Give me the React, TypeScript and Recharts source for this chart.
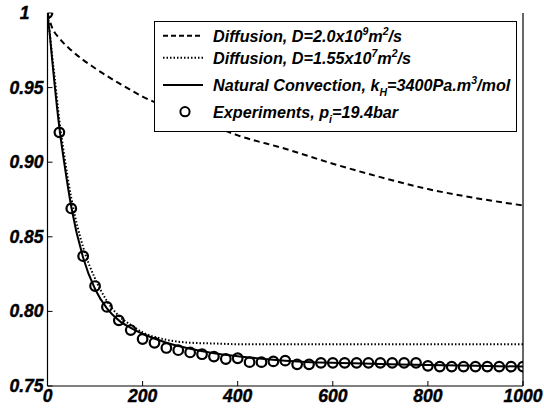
import React from 'react';
import { ComposedChart, Line, Scatter, XAxis, YAxis } from 'recharts';

// experiment sample times (s) and normalised pressure
const EXP_T = [
  0, 25, 50, 75, 100, 125, 150, 175, 200, 225, 250, 275, 300, 325, 350, 375, 400, 425, 450, 475, 500,
  525, 550, 575, 600, 625, 650, 675, 700, 725, 750, 775, 800, 825, 850, 875, 900, 925, 950, 975, 1000,
];
const EXP_V = [
  1.0, 0.92, 0.869, 0.837, 0.817, 0.803, 0.794, 0.7875, 0.7815, 0.779, 0.7755, 0.774, 0.7725, 0.7713,
  0.7697, 0.7681, 0.7686, 0.766, 0.766, 0.7665, 0.767, 0.7645, 0.7645, 0.7655, 0.7655, 0.7655, 0.7655,
  0.7655, 0.7655, 0.7655, 0.7655, 0.7655, 0.7635, 0.763, 0.763, 0.763, 0.763, 0.763, 0.763, 0.763, 0.763,
];

// natural convection model
const NC_T = [0, 5, 10, 15, 25, 35, 50, 75, 100, 125, 150, 175, 200, 250, 300, 350, 400, 500, 600, 700, 800, 900, 1000];
const NC_V = [1, 0.985, 0.968, 0.952, 0.923, 0.9, 0.87, 0.836, 0.815, 0.802, 0.794, 0.789, 0.785, 0.779, 0.775, 0.772, 0.77, 0.767, 0.7655, 0.7648, 0.764, 0.7635, 0.763];

// diffusion, D = 1.55e-7
const D2_T = [0, 5, 10, 15, 25, 35, 50, 75, 100, 125, 150, 175, 200, 250, 300, 350, 400, 500, 600, 700, 800, 900, 1000];
const D2_V = [1, 0.986, 0.971, 0.957, 0.928, 0.905, 0.876, 0.843, 0.822, 0.807, 0.797, 0.791, 0.786, 0.781, 0.779, 0.7785, 0.778, 0.778, 0.778, 0.778, 0.778, 0.778, 0.778];

// diffusion, D = 2.0e-9
const D1_T = [0, 10, 25, 50, 100, 150, 200, 300, 400, 500, 600, 700, 800, 900, 1000];
const D1_V = [1, 0.99, 0.983, 0.975, 0.963, 0.953, 0.944, 0.931, 0.918, 0.909, 0.899, 0.89, 0.882, 0.876, 0.871];

const X_TICKS = [0, 200, 400, 600, 800, 1000];
const Y_TICKS = [0.75, 0.8, 0.85, 0.9, 0.95, 1];

const zip = (t: number[], v: number[]) => t.map((x, i) => ({ t: x, v: v[i] }));
const expData = zip(EXP_T, EXP_V);
const ncData = zip(NC_T, NC_V);
const d2Data = zip(D2_T, D2_V);
const d1Data = zip(D1_T, D1_V);

const FONT = '"Liberation Sans", Arial, sans-serif';
const fmtY = (v: number) => (v === 1 ? '1' : v.toFixed(2));

const labelStyle = {
  fontFamily: FONT, fontWeight: 'bold' as const, fontStyle: 'italic' as const, fontSize: 17.5,
  fill: '#000', stroke: '#000', strokeWidth: 0.4,
};

const LeftTick = ({ x, y, payload }: any) => (
  <g>
    <line x1={x} x2={x + 5} y1={y} y2={y} stroke="#000" strokeWidth={1} />
    <text x={payload.value === 1 ? x - 18 : x - 4} y={y} dy={6} textAnchor="end" {...labelStyle}>
      {fmtY(payload.value)}
    </text>
  </g>
);
const RightTick = ({ x, y }: any) => (
  <line x1={x} x2={x - 5} y1={y} y2={y} stroke="#000" strokeWidth={1} />
);
const BottomTick = ({ x, y, payload }: any) => (
  <g>
    <line x1={x} x2={x} y1={y} y2={y - 5} stroke="#000" strokeWidth={1} />
    <text x={x} y={y} dy={16} textAnchor="middle" {...labelStyle}>{payload.value}</text>
  </g>
);
const TopTick = ({ x, y }: any) => (
  <line x1={x} x2={x} y1={y} y2={y + 5} stroke="#000" strokeWidth={1} />
);

const ring = (p: any) => <circle cx={p.cx} cy={p.cy} r={4.8} fill="none" stroke="#000" strokeWidth={2.2} />;

const legendText: React.CSSProperties = {
  position: 'absolute', left: 58, fontFamily: FONT, fontWeight: 'bold', fontStyle: 'italic',
  fontSize: 16.2, lineHeight: '18px', whiteSpace: 'nowrap', color: '#000',
};
const supS: React.CSSProperties = { fontSize: 10.5, verticalAlign: 7, lineHeight: 0 };
const subS: React.CSSProperties = { fontSize: 10.5, verticalAlign: -5, lineHeight: 0 };

function LegendBox() {
  const rows = [14.7, 36.7, 64, 90.7];
  return (
    <div style={{ position: 'absolute', left: 154, top: 21, width: 363, height: 111, background: '#fff', border: '1px solid #000', boxSizing: 'border-box' }}>
      <svg width={363} height={111} style={{ position: 'absolute', left: -1, top: -1 }}>
        <line x1={9} x2={49} y1={rows[0]} y2={rows[0]} stroke="#000" strokeWidth={2} strokeDasharray="5 3" />
        <line x1={9} x2={49} y1={rows[1]} y2={rows[1]} stroke="#000" strokeWidth={2} strokeDasharray="1.5 2" />
        <line x1={9} x2={49} y1={rows[2]} y2={rows[2]} stroke="#000" strokeWidth={2} />
        <circle cx={31} cy={rows[3]} r={4.6} fill="none" stroke="#000" strokeWidth={2} />
      </svg>
      <div style={{ ...legendText, top: rows[0] - 10 }}>Diffusion, D=2.0x10<span style={supS}>9</span>m<span style={supS}>2</span>/s</div>
      <div style={{ ...legendText, top: rows[1] - 10 }}>Diffusion, D=1.55x10<span style={supS}>7</span>m<span style={supS}>2</span>/s</div>
      <div style={{ ...legendText, top: rows[2] - 10 }}>Natural Convection, k<span style={subS}>H</span>=3400Pa.m<span style={supS}>3</span>/mol</div>
      <div style={{ ...legendText, top: rows[3] - 10 }}>Experiments, p<span style={subS}>i</span>=19.4bar</div>
    </div>
  );
}

export default function App() {
  return (
    <div style={{ position: 'absolute', left: 0, top: 0, width: 544, height: 411, background: '#fff' }}>
      <ComposedChart width={544} height={411} margin={{ top: 13, right: 0, bottom: 0, left: 0 }}>
        <XAxis xAxisId="b" dataKey="t" type="number" domain={[0, 1000]} ticks={X_TICKS} interval={0}
          height={25} tickSize={0} tickMargin={0} tickLine={false} axisLine={{ stroke: '#000', strokeWidth: 1.2 }} tick={BottomTick} allowDataOverflow />
        <XAxis xAxisId="t" orientation="top" dataKey="t" type="number" domain={[0, 1000]} ticks={X_TICKS} interval={0}
          height={0} tickSize={0} tickMargin={0} tickLine={false} axisLine={{ stroke: '#000', strokeWidth: 1.2 }} tick={TopTick} />
        <YAxis yAxisId="l" dataKey="v" type="number" domain={[0.75, 1]} ticks={Y_TICKS} interval={0}
          width={47.5} tickSize={0} tickMargin={0} tickLine={false} axisLine={{ stroke: '#000', strokeWidth: 1.2 }} tick={LeftTick} allowDataOverflow />
        <YAxis yAxisId="r" orientation="right" dataKey="v" type="number" domain={[0.75, 1]} ticks={Y_TICKS} interval={0}
          width={21} tickSize={0} tickMargin={0} tickLine={false} axisLine={{ stroke: '#000', strokeWidth: 1.2 }} tick={RightTick} />
        <Line xAxisId="b" yAxisId="l" data={d1Data} dataKey="v" type="monotone" stroke="#000" strokeWidth={2}
          strokeDasharray="6 4" dot={false} isAnimationActive={false} />
        <Line xAxisId="b" yAxisId="l" data={d2Data} dataKey="v" type="monotone" stroke="#000" strokeWidth={2}
          strokeDasharray="1.5 2" dot={false} isAnimationActive={false} />
        <Line xAxisId="b" yAxisId="l" data={ncData} dataKey="v" type="monotone" stroke="#000" strokeWidth={2}
          dot={false} isAnimationActive={false} />
        <Scatter xAxisId="b" yAxisId="l" data={expData} dataKey="v" shape={ring} isAnimationActive={false} />
      </ComposedChart>
      <LegendBox />
    </div>
  );
}
